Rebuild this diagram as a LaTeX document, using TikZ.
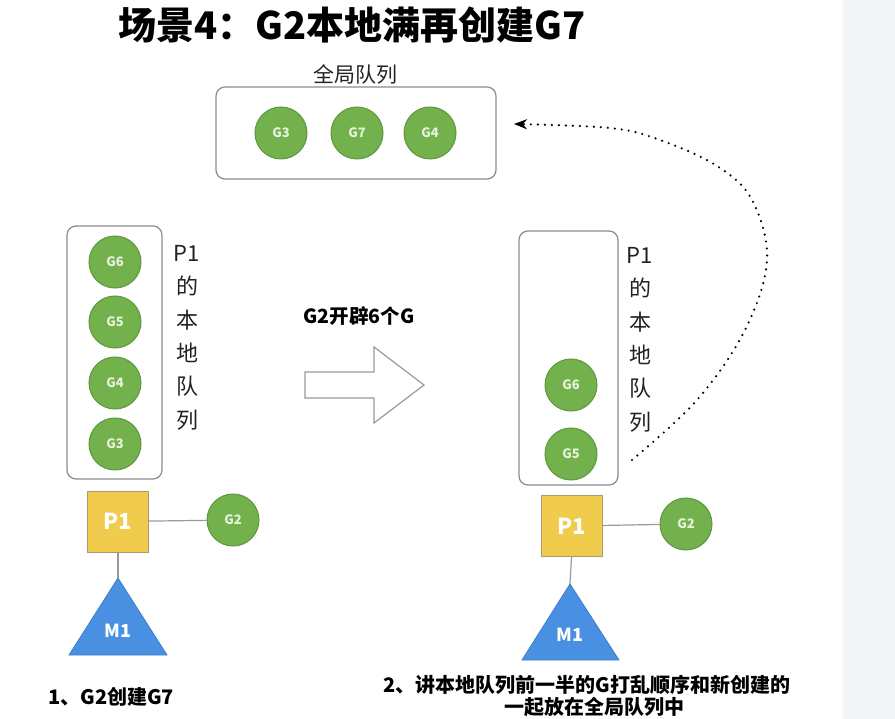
\documentclass[tikz,border=0pt]{standalone}
\usepackage{fontspec}
\setmainfont{Noto Sans CJK SC}
\usetikzlibrary{arrows.meta}
\definecolor{gfill}{HTML}{72B14C}
\definecolor{gdraw}{HTML}{5F973E}
\definecolor{gtext}{HTML}{E6F2DC}
\definecolor{pfill}{HTML}{F0CB4C}
\definecolor{pdraw}{HTML}{A89A72}
\definecolor{mfill}{HTML}{4A90E2}
\definecolor{mdraw}{HTML}{3F7DC8}
\definecolor{qgray}{HTML}{8C8C8C}
\definecolor{lgray}{HTML}{9A9A9A}
\definecolor{strip}{HTML}{F4F5F7}
\definecolor{txt}{HTML}{222222}
\begin{document}
\begin{tikzpicture}[x=1pt,y=-1pt,
  gnode/.style={circle, fill=gfill, draw=gdraw, line width=1pt, minimum size=52pt, inner sep=0pt,
    font=\bfseries\fontsize{13}{13}\selectfont, text=gtext},
  queue/.style={draw=qgray, line width=1.2pt, rounded corners=9pt, inner sep=0pt},
  pbox/.style={rectangle, fill=pfill, draw=pdraw, line width=1pt, minimum size=61pt, inner sep=0pt,
    font=\bfseries\fontsize{22}{22}\selectfont, text=white},
  mtri/.style={fill=mfill, draw=mdraw, line width=0.8pt},
  mlabel/.style={font=\bfseries\fontsize{18}{18}\selectfont, text=white, inner sep=0pt},
  link/.style={draw=lgray, line width=1.2pt},
  vtext/.style={align=center, anchor=north, inner sep=0pt, text=txt, font=\fontsize{22}{33.4}\selectfont},
  caption/.style={font=\bfseries\fontsize{20}{20}\selectfont, text=black, inner sep=0pt}
]
\useasboundingbox (0,0) rectangle (895,719);
\clip (0,0) rectangle (895,719);
\fill[white] (0,0) rectangle (895,719);
\fill[strip] (843,0) rectangle (895,719);

% title
\node[font=\bfseries\fontsize{38}{38}\selectfont, text=black, inner sep=0pt] (title) at (352,25) {场景4：G2本地满再创建G7};

% global queue
\node[font=\fontsize{21}{21}\selectfont, text=txt, inner sep=0pt] (gqlabel) at (355,74) {全局队列};
\node[queue, minimum width=280pt, minimum height=92pt] (gq) at (356,133) {};
\node[gnode] (gq3) at (281,133) {G3};
\node[gnode] (gq7) at (357,133) {G7};
\node[gnode] (gq4) at (430,133) {G4};

% left local queue
\node[queue, minimum width=95pt, minimum height=253pt] (lqL) at (114.5,352.5) {};
\node[gnode] (g6L) at (115,262) {G6};
\node[gnode] (g5L) at (115,322) {G5};
\node[gnode] (g4L) at (115,383) {G4};
\node[gnode] (g3L) at (115,444) {G3};
\node[vtext] (vtL) at (187,245) {P1\\的\\本\\地\\队\\列};

\node[pbox] (p1L) at (118,521.5) {P1};
\node[gnode] (g2L) at (233,520) {G2};
\coordinate (m1Ltop) at (118,578);
\fill[mtri] (m1Ltop) -- (167,655) -- (69,655) -- cycle;
\node[mlabel] (m1L) at (118,631) {M1};
\draw[link] (p1L) -- (g2L);
\draw[link] (p1L.south) -- (m1Ltop);
\node[caption, anchor=west] (cap1) at (48,697) {1、G2创建G7};

% middle arrow
\node[caption, font=\bfseries\fontsize{19.5}{19.5}\selectfont] (mid) at (359,316) {G2开辟6个G};
\draw[draw=lgray, line width=1.2pt, fill=white, line join=miter]
  (305,372) -- (374,372) -- (374,347) -- (424,385) -- (374,423) -- (374,398) -- (305,398) -- cycle;

% right local queue
\node[queue, minimum width=99pt, minimum height=254pt] (lqR) at (568.5,358) {};
\node[gnode] (g6R) at (571,385) {G6};
\node[gnode] (g5R) at (571,454) {G5};
\node[vtext] (vtR) at (640,247) {P1\\的\\本\\地\\队\\列};

\node[pbox] (p1R) at (571.5,526) {P1};
\node[gnode] (g2R) at (686,524) {G2};
\coordinate (m1Rtop) at (570,584);
\fill[mtri] (m1Rtop) -- (619,660) -- (522,660) -- cycle;
\node[mlabel] (m1R) at (570,635) {M1};
\draw[link] (p1R) -- (g2R);
\draw[link] (p1R.south) -- (m1Rtop);

\node[caption] (cap2a) at (587,685) {2、讲本地队列前一半的G打乱顺序和新创建的};
\node[caption] (cap2b) at (594,707) {一起放在全局队列中};

% dotted curve to global queue
\coordinate (dstart) at (632,460);
\coordinate (dend) at (514,124);
\draw[line width=2.4pt, line cap=round, dash pattern=on 0pt off 7pt, -{Stealth[length=13pt,width=10pt]}]
  plot[smooth, tension=0.6] coordinates {(dstart) (697,400) (745,330) (767,260) (752,200) (717,166) (660,140) (610,128) (dend)};
\end{tikzpicture}
\end{document}
